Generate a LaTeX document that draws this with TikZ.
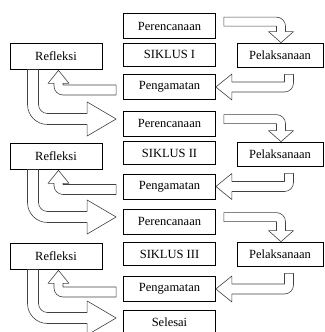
\documentclass[tikz,border=0pt]{standalone}
\usepackage{fontspec}
\setmainfont{Liberation Serif}
\usetikzlibrary{calc}

% block arrow: right along the top of #1, then down onto #2
\newcommand{\planarrow}[2]{%
  \draw[blockarrow] let \p1=(#1.north east), \p2=(#2.north) in
    (\x1+8,\y1-4) -- (\x2+5.5-9,\y1-4) arc[start angle=90,end angle=0,radius=9]
    -- (\x2+5.5,\y2+11) -- (\x2+13.5,\y2+11) -- (\x2+1,\y2) -- (\x2-11.5,\y2+11)
    -- (\x2-3.5,\y2+11) -- (\x2-3.5,\y1-13) -- (\x1+8,\y1-13) -- cycle;}
% block arrow: down from #1, then left onto #2
\newcommand{\actarrow}[2]{%
  \draw[blockarrow] let \p1=(#1.south), \p2=(#2.east) in
    (\x1+4.5,\y1-7) -- (\x1+13.5,\y1-7) -- (\x1+13.5,\y2+4) arc[start angle=0,end angle=-90,radius=9]
    -- (\x2+16,\y2-5) -- (\x2+16,\y2-13) -- (\x2,\y2) -- (\x2+16,\y2+13)
    -- (\x2+16,\y2+5) -- (\x1+4.5,\y2+5) -- cycle;}
% block arrow: left from #1, then up onto #2
\newcommand{\observearrow}[2]{%
  \draw[blockarrow] let \p1=(#1.west), \p2=(#2.south) in
    (\x1-7,\y1+2) -- (\x2+7,\y1+2) -- (\x2+7,\y2-14) -- (\x2+13,\y2-14) -- (\x2+2.5,\y2-1)
    -- (\x2-8,\y2-14) -- (\x2-2,\y2-14) -- (\x2-2,\y1+1) arc[start angle=180,end angle=270,radius=9]
    -- (\x1-7,\y1-8) -- cycle;}
% big block arrow: down from #1, then right onto #2
\newcommand{\reflectarrow}[2]{%
  \draw[blockarrow] let \p1=(#1.south), \p2=(#2.west) in
    (\x1-17.5,\y1) -- (\x1-17.5,\y2+19) arc[start angle=180,end angle=270,radius=9]
    -- (\x2-36,\y2+10) -- (\x2-36,\y2+21.5) -- (\x2-7,\y2+4.5) -- (\x2-36,\y2-12.5)
    -- (\x2-36,\y2-1) -- (\x1-8.5,\y2-1) arc[start angle=270,end angle=180,radius=20]
    -- (\x1-28.5,\y1) -- cycle;}

\begin{document}
\begin{tikzpicture}[x=1pt,y=1pt,
    box/.style={draw,line width=0.7pt,inner sep=0pt,font=\fontsize{12.5}{14}\selectfont},
    stage/.style={box,minimum width=92,minimum height=25},
    cyclebox/.style={box,minimum width=92,minimum height=23},
    reflbox/.style={box,minimum width=92,minimum height=26},
    actbox/.style={box,minimum width=86,minimum height=24},
    blockarrow/.style={draw=black!75,line width=0.6pt,line join=round}]
\useasboundingbox (0,0) rectangle (324,332);
% cycle I
\node[stage] (plan1) at (169.5,306) {Perencanaan};
\node[cyclebox] (siklus1) at (169.5,277.5) {SIKLUS I};
\node[stage] (amat1) at (169.5,245) {Pengamatan};
\node[reflbox] (refl1) at (56,276) {Refleksi};
\node[actbox] (act1) at (280,277) {Pelaksanaan};
% cycle II
\node[stage] (plan2) at (169.5,208.5) {Perencanaan};
\node[cyclebox] (siklus2) at (169.5,179) {SIKLUS II};
\node[stage] (amat2) at (169.5,145.5) {Pengamatan};
\node[reflbox] (refl2) at (56,176) {Refleksi};
\node[actbox] (act2) at (280,178) {Pelaksanaan};
% cycle III
\node[stage] (plan3) at (169.5,110.5) {Perencanaan};
\node[cyclebox] (siklus3) at (169.5,78) {SIKLUS III};
\node[stage] (amat3) at (169.5,43) {Pengamatan};
\node[reflbox] (refl3) at (56,76) {Refleksi};
\node[actbox] (act3) at (280,78) {Pelaksanaan};
\node[stage,minimum height=24] (done) at (169.5,9.5) {Selesai};
% arrows
\planarrow{plan1}{act1}
\actarrow{act1}{amat1}
\observearrow{amat1}{refl1}
\reflectarrow{refl1}{plan2}
\planarrow{plan2}{act2}
\actarrow{act2}{amat2}
\observearrow{amat2}{refl2}
\reflectarrow{refl2}{plan3}
\planarrow{plan3}{act3}
\actarrow{act3}{amat3}
\observearrow{amat3}{refl3}
\reflectarrow{refl3}{done}
\end{tikzpicture}
\end{document}
